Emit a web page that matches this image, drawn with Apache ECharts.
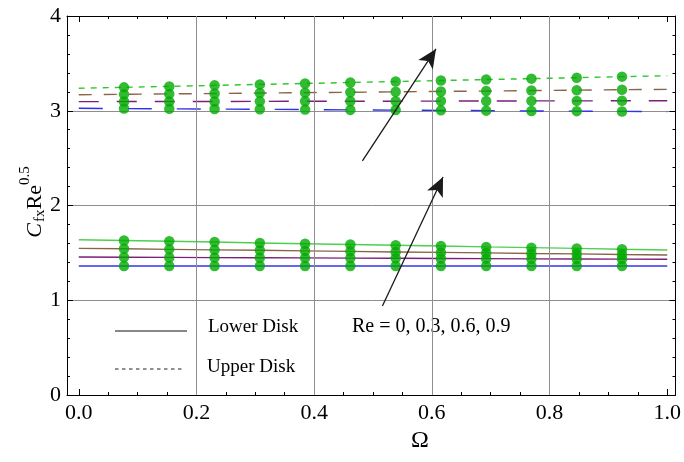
<!DOCTYPE html>
<html>
<head>
<meta charset="utf-8">
<script src="https://cdn.jsdelivr.net/npm/echarts@6/dist/echarts.min.js"></script>
<style>
  html, body { margin: 0; padding: 0; background: #ffffff; }
  #chart { width: 684px; height: 462px; }
</style>
</head>
<body>
<div id="chart"></div>
<script>
// Rotation parameter Ω (sample nodes; dots are drawn at the interior nodes)
const omega = [0, 0.0769, 0.1538, 0.2308, 0.3077, 0.3846, 0.4615, 0.5385, 0.6154, 0.6923, 0.7692, 0.8462, 0.9231, 1.0];

// Skin friction C_fx Re^0.5 on the lower disk, Re = 0, 0.3, 0.6, 0.9
const lowerRe0  = [1.361, 1.361, 1.361, 1.361, 1.361, 1.361, 1.361, 1.361, 1.361, 1.361, 1.361, 1.361, 1.361, 1.361];
const lowerRe03 = [1.456, 1.454, 1.452, 1.450, 1.449, 1.447, 1.445, 1.443, 1.441, 1.439, 1.437, 1.436, 1.434, 1.432];
const lowerRe06 = [1.548, 1.543, 1.537, 1.532, 1.527, 1.521, 1.516, 1.510, 1.505, 1.500, 1.494, 1.489, 1.483, 1.478];
const lowerRe09 = [1.639, 1.631, 1.622, 1.614, 1.605, 1.597, 1.589, 1.580, 1.572, 1.563, 1.555, 1.547, 1.538, 1.530];

// Skin friction on the upper disk
const upperRe0  = [3.026, 3.023, 3.020, 3.018, 3.015, 3.012, 3.009, 3.007, 3.004, 3.001, 2.998, 2.996, 2.993, 2.990];
const upperRe03 = [3.096, 3.097, 3.098, 3.098, 3.099, 3.100, 3.101, 3.101, 3.102, 3.103, 3.104, 3.104, 3.105, 3.106];
const upperRe06 = [3.169, 3.173, 3.178, 3.182, 3.187, 3.191, 3.195, 3.200, 3.204, 3.208, 3.213, 3.217, 3.222, 3.226];
const upperRe09 = [3.237, 3.247, 3.257, 3.268, 3.278, 3.288, 3.298, 3.308, 3.319, 3.329, 3.339, 3.349, 3.360, 3.370];

// Axis ticks
const xMajorTicks = [0, 0.2, 0.4, 0.6, 0.8, 1.0];
const xMinorTicks = [0.05, 0.1, 0.15, 0.25, 0.3, 0.35, 0.45, 0.5, 0.55, 0.65, 0.7, 0.75, 0.85, 0.9, 0.95];
const xGridLines = [0.2, 0.4, 0.6, 0.8];

// Arrows showing increasing Re (start point, end point)
const arrowUpper = [[0.482, 2.47], [0.607, 3.652]];
const arrowLower = [[0.516, 0.94], [0.619, 2.30]];

const FONT = 'Liberation Serif';
const xMin = -0.02, xMax = 1.014;

const colors = { re0: '#3434f0', re03: '#7a1f7a', re06: '#8a6448', re09: '#4fcf4f', dot: '#00aa00' };

function pairs(arr) { return omega.map((x, i) => [x, arr[i]]); }

const curves = [
  { name: 'Lower Disk, Re = 0',   data: lowerRe0,  color: colors.re0,  dash: 'solid' },
  { name: 'Lower Disk, Re = 0.3', data: lowerRe03, color: colors.re03, dash: 'solid' },
  { name: 'Lower Disk, Re = 0.6', data: lowerRe06, color: colors.re06, dash: 'solid' },
  { name: 'Lower Disk, Re = 0.9', data: lowerRe09, color: colors.re09, dash: 'solid' },
  { name: 'Upper Disk, Re = 0',   data: upperRe0,  color: '#3030f0', dash: [24, 25] },
  { name: 'Upper Disk, Re = 0.3', data: upperRe03, color: colors.re03, dash: [20, 18] },
  { name: 'Upper Disk, Re = 0.6', data: upperRe06, color: colors.re06, dash: [13, 12] },
  { name: 'Upper Disk, Re = 0.9', data: upperRe09, color: '#2ec82e', dash: [6, 6] }
];

const dotData = [];
curves.forEach(c => {
  for (let i = 1; i < omega.length - 1; i++) dotData.push([omega[i], c.data[i]]);
});

const chart = echarts.init(document.getElementById('chart'), null, { renderer: 'canvas' });

function frameX(position, ticks, len, showLine, showLabel) {
  return {
    type: 'value', min: xMin, max: xMax, position: position,
    axisLine: { show: showLine, onZero: false, lineStyle: { color: '#000', width: 1 } },
    axisTick: { show: true, inside: true, length: len, customValues: ticks, lineStyle: { color: '#000', width: 1 } },
    axisLabel: showLabel ? {
      show: true, customValues: ticks, margin: 7,
      fontFamily: FONT, fontSize: 22, color: '#000',
      formatter: v => Number(v).toFixed(1)
    } : { show: false },
    splitLine: { show: false }
  };
}

function frameY(position, showLabel, showSplit) {
  return {
    type: 'value', min: 0, max: 4, interval: 1, position: position,
    axisLine: { show: true, onZero: false, lineStyle: { color: '#000', width: 1 } },
    axisTick: { show: true, inside: true, length: 6, lineStyle: { color: '#000' } },
    minorTick: { show: true, splitNumber: 5, length: 3, lineStyle: { color: '#000' } },
    axisLabel: showLabel ? { show: true, margin: 6, fontFamily: FONT, fontSize: 22, color: '#000' } : { show: false },
    splitLine: { show: showSplit, lineStyle: { color: '#8e8e8e', width: 1 } },
    minorSplitLine: { show: false }
  };
}

// Y-axis title: italic C, subscript fx, Re, superscript 0.5 (rotated)
const measure = document.createElement('canvas').getContext('2d');
function textW(str, size, italic) {
  measure.font = (italic ? 'italic ' : '') + size + 'px "' + FONT + '"';
  return measure.measureText(str).width;
}
const titleParts = [
  { t: 'C',   size: 22, italic: true,  dy: 0 },
  { t: 'fx',  size: 15, italic: false, dy: 5 },
  { t: 'Re',  size: 22, italic: false, dy: 0 },
  { t: '0.5', size: 15, italic: false, dy: -10 }
];
let totalW = 0;
titleParts.forEach(p => { p.w = textW(p.t, p.size, p.italic) + (p.italic ? 1 : 0); totalW += p.w; });
let cursor = -totalW / 2;
const titleChildren = titleParts.map(p => {
  const el = {
    type: 'text', x: cursor, y: p.dy,
    style: {
      text: p.t, fontFamily: FONT, fontSize: p.size, fontStyle: p.italic ? 'italic' : 'normal',
      fill: '#000', textAlign: 'left', textVerticalAlign: 'middle'
    }
  };
  cursor += p.w;
  return el;
});

const series = [
  {
    // vertical grid lines
    type: 'line', data: [], z: 1, silent: true,
    markLine: {
      silent: true, symbol: ['none', 'none'], animation: false,
      label: { show: false },
      lineStyle: { color: '#8e8e8e', width: 1, type: 'solid' },
      data: xGridLines.map(v => ({ xAxis: v }))
    }
  }
];

curves.forEach(c => {
  series.push({
    name: c.name, type: 'line', data: pairs(c.data), xAxisIndex: 0, yAxisIndex: 0,
    showSymbol: false, symbol: 'none', smooth: false, z: 3,
    lineStyle: { color: c.color, width: 1.4, type: c.dash },
    emphasis: { disabled: true }, silent: true
  });
});

series.push({
  name: 'nodes', type: 'scatter', data: dotData, symbol: 'circle', symbolSize: 10.5, z: 4,
  itemStyle: { color: colors.dot }, emphasis: { disabled: true }, silent: true
});

series.push({
  // arrows marking the direction of increasing Re
  type: 'line', data: [], z: 5, silent: true,
  markLine: {
    silent: true, animation: false, symbol: ['none', 'arrow'], symbolSize: [13, 19],
    label: { show: false },
    lineStyle: { color: '#1a1a1a', width: 1.3, type: 'solid' },
    data: [
      [{ coord: arrowUpper[0] }, { coord: arrowUpper[1] }],
      [{ coord: arrowLower[0] }, { coord: arrowLower[1] }]
    ]
  }
});

const option = {
  backgroundColor: '#ffffff',
  animation: false,
  grid: { left: 67, right: 7, top: 16, bottom: 67, containLabel: false },
  xAxis: [
    frameX('bottom', xMajorTicks, 6, true, true),
    frameX('bottom', xMinorTicks, 3, false, false),
    frameX('top', xMajorTicks, 6, true, false),
    frameX('top', xMinorTicks, 3, false, false)
  ],
  yAxis: [
    frameY('left', true, true),
    frameY('right', false, false)
  ],
  series: series,
  graphic: [
    {
      type: 'group', x: 35, y: 202, rotation: Math.PI / 2, silent: true,
      children: titleChildren
    },
    {
      type: 'text', x: 420, y: 441, silent: true,
      style: { text: 'Ω', fontFamily: FONT, fontSize: 24, fill: '#000', textAlign: 'center', textVerticalAlign: 'middle' }
    },
    {
      type: 'line', silent: true,
      shape: { x1: 115, y1: 331, x2: 187, y2: 331 },
      style: { stroke: '#111', lineWidth: 1.2 }
    },
    {
      type: 'line', silent: true,
      shape: { x1: 115, y1: 369, x2: 183, y2: 369 },
      style: { stroke: '#222', lineWidth: 1, lineDash: [3.5, 3.5] }
    },
    {
      type: 'text', x: 208, y: 327, silent: true,
      style: { text: 'Lower Disk', fontFamily: FONT, fontSize: 19, fill: '#000', textAlign: 'left', textVerticalAlign: 'middle' }
    },
    {
      type: 'text', x: 207, y: 367, silent: true,
      style: { text: 'Upper Disk', fontFamily: FONT, fontSize: 19, fill: '#000', textAlign: 'left', textVerticalAlign: 'middle' }
    },
    {
      type: 'text', x: 352, y: 327, silent: true,
      style: { text: 'Re = 0, 0.3, 0.6, 0.9', fontFamily: FONT, fontSize: 20, fill: '#000', textAlign: 'left', textVerticalAlign: 'middle' }
    }
  ]
};

chart.setOption(option);
</script>
</body>
</html>
